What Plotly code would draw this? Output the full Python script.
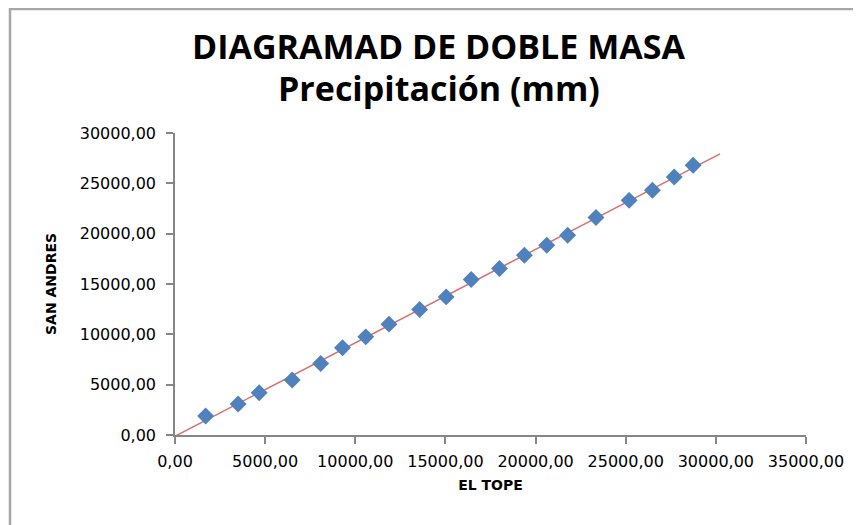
import numpy as np
import plotly.graph_objects as go

# Precipitacion acumulada (mm) - estacion base vs estacion analizada
el_tope = [1700, 3500, 4670, 6500, 8080, 9290, 10580, 11870, 13570, 15040,
           16430, 18000, 19380, 20620, 21780, 23350, 25190, 26480, 27690, 28740]
san_andres = [1890, 3080, 4200, 5460, 7110, 8670, 9750, 11010, 12470, 13720,
              15450, 16540, 17860, 18850, 19840, 21600, 23310, 24310, 25630, 26790]

# tramo que cubre la linea de tendencia
trend_x = [0, 30230]

x_ticks = [0, 5000, 10000, 15000, 20000, 25000, 30000, 35000]
y_ticks = [0, 5000, 10000, 15000, 20000, 25000, 30000]

# Linear trendline (least squares)
slope, intercept = np.polyfit(el_tope, san_andres, 1)
trend_y = [slope * v + intercept for v in trend_x]

fig = go.Figure()

fig.add_trace(go.Scatter(
    x=trend_x, y=trend_y,
    mode='lines',
    line=dict(color='#d9706d', width=1.5),
    showlegend=False,
    hoverinfo='skip'
))

fig.add_trace(go.Scatter(
    x=el_tope, y=san_andres,
    mode='markers',
    marker=dict(symbol='diamond', size=13, color='#4f81bd'),
    showlegend=False,
    hovertemplate='EL TOPE: %{x:.2f}<br>SAN ANDRES: %{y:.2f}<extra></extra>'
))

axis_font = dict(family='DejaVu Sans', size=16, color='#000000')
label_font = dict(family='DejaVu Sans', size=14, color='#000000')
title_font = dict(family='Open Sans', size=34, color='#000000')

# the page body adds an 8px offset, so margins are shifted by that much
fig.update_layout(
    width=861,
    height=525,
    margin=dict(l=167, r=63, t=125, b=98),
    paper_bgcolor='white',
    plot_bgcolor='white',
    separators=',.',
    title=dict(
        text='<b>DIAGRAMAD DE DOBLE MASA</b>',
        font=title_font,
        x=0.5, xanchor='center', xref='container',
        y=1 - 39 / 525, yanchor='middle', yref='container'
    ),
    annotations=[dict(
        text='<b>Precipitación (mm)</b>',
        font=title_font,
        xref='paper', yref='paper',
        x=(431 - 167) / 631, y=1 + (125 - 80) / 302,
        xanchor='center', yanchor='middle', showarrow=False
    )],
    # borde del area del grafico
    shapes=[dict(
        type='rect', xref='paper', yref='paper',
        x0=-0.2615, x1=1.3, y0=-0.5, y1=1 + 124 / 302,
        line=dict(color='#a6a6a6', width=2.5),
        fillcolor='rgba(0,0,0,0)', layer='below'
    )]
)

fig.update_xaxes(
    range=[0, 35000],
    tickvals=x_ticks,
    tickformat='.2f',
    showgrid=False, zeroline=False,
    showline=True, linecolor='#868686', linewidth=1.5,
    ticks='outside', ticklen=7, tickcolor='#868686', tickwidth=1.5,
    ticklabelstandoff=4,
    tickfont=axis_font,
    title=dict(text='<b>EL TOPE</b>', font=label_font, standoff=10)
)

fig.update_yaxes(
    range=[0, 30000],
    tickvals=y_ticks,
    tickformat='.2f',
    showgrid=False, zeroline=False,
    showline=True, linecolor='#868686', linewidth=1.5,
    ticks='outside', ticklen=7, tickcolor='#868686', tickwidth=1.5,
    ticklabelstandoff=7,
    tickfont=axis_font,
    title=dict(text='<b>SAN ANDRES</b>', font=label_font, standoff=20)
)

fig.write_html("out.html")
